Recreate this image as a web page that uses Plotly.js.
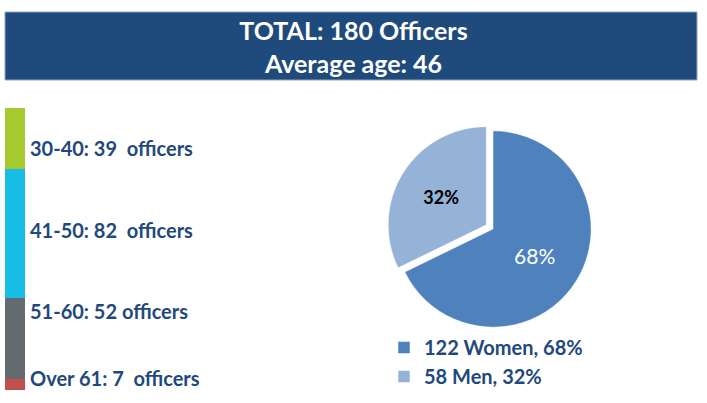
<!DOCTYPE html>
<html>
<head>
<meta charset="utf-8">
<script src="https://cdn.plot.ly/plotly-3.0.1.min.js"></script>
<style>html,body{margin:0;padding:0;background:#fff;}#chart{width:707px;height:403px;}</style>
</head>
<body>
<div id="chart"></div>
<script>
// ---- data ----
const ageGroups = ["Over 61", "51-60", "41-50", "30-40"];
const ageCounts = [7, 52, 82, 39];
const ageColors = ["#C0504D", "#646B6E", "#17BDE5", "#A6C92D"];
const genderNames = ["Women", "Men"];
const genderCounts = [122, 58];
const genderColors = ["#4F81BD", "#95B3D7"];
const averageAge = 46;

// ---- derived ----
const total = ageCounts.reduce((a, b) => a + b, 0);
const gTotal = genderCounts.reduce((a, b) => a + b, 0);
const genderPct = genderCounts.map(c => Math.round(100 * c / gTotal));
const genderLabels = genderNames.map((n, i) => genderCounts[i] + " " + n + ", " + genderPct[i] + "%");

const W = 707, H = 403;
const px = x => x / W;
const py = y => 1 - y / H;

const textColor = "#1F497D";
const FONT = "Lato, 'Open Sans', sans-serif";

const traces = [];
ageGroups.forEach((g, i) => {
  traces.push({
    type: "bar", x: ["age"], y: [ageCounts[i]], name: g,
    marker: { color: ageColors[i], line: { width: 0 } },
    width: 1, showlegend: false, hoverinfo: "skip",
    xaxis: "x", yaxis: "y"
  });
});

const pull = 0.08;
traces.push({
  type: "pie",
  labels: genderLabels,
  values: genderCounts,
  marker: { colors: genderColors, line: { color: "#ffffff", width: 0.5 } },
  sort: false, direction: "clockwise", rotation: 0,
  pull: [0, pull],
  text: genderPct.map((p, i) => i === 1 ? "<b>" + p + "%</b>" : p + "%"),
  textinfo: "text",
  texttemplate: "%{text}",
  textposition: "inside",
  insidetextorientation: "horizontal",
  insidetextfont: { family: [FONT, FONT], size: [21, 18], color: ["#ffffff", "#000000"] },
  domain: { x: [px(493 - 106), px(493 + 106)], y: [py(229 + 106), py(229 - 106)] },
  hoverinfo: "skip",
  showlegend: true
});

// labels for stacked bar
const labelY = [378, 311, 230, 148];
const annotations = ageGroups.map((g, i) => {
  const sep = (g === "Over 61" || g === "41-50" || g === "30-40") ? "\u00a0 " : " ";
  return {
    xref: "paper", yref: "paper", x: px(28), y: py(labelY[i]),
    xanchor: "left", yanchor: "middle", showarrow: false,
    text: "<b>" + g + ": " + ageCounts[i] + sep + "officers</b>",
    font: { family: FONT, size: 20, color: textColor }
  };
});

const layout = {
  width: W, height: H,
  margin: { l: 0, r: 0, t: 0, b: 0 },
  paper_bgcolor: "#ffffff", plot_bgcolor: "rgba(0,0,0,0)",
  barmode: "stack", bargap: 0,
  showlegend: true,
  font: { family: FONT },
  title: {
    text: "<b>TOTAL: " + total + " Officers</b><br><b>Average age: " + averageAge + "</b>",
    font: { family: FONT, size: 25, color: "#ffffff", lineposition: "none" },
    x: 0.5, xanchor: "center", xref: "paper",
    y: py(40), yanchor: "middle", yref: "paper"
  },
  xaxis: { domain: [px(5), px(25)], visible: false, fixedrange: true },
  yaxis: { domain: [py(390), py(108)], range: [0, total], visible: false, fixedrange: true },
  shapes: [{
    type: "rect", xref: "paper", yref: "paper",
    x0: px(5), x1: px(697), y0: py(80), y1: py(12),
    fillcolor: "#1F4A7C", line: { color: "#8FA6C2", width: 1 }, layer: "below"
  }],
  legend: {
    x: px(384), y: py(328), xanchor: "left", yanchor: "top",
    traceorder: "normal",
    font: { family: FONT, size: 20, color: textColor, weight: 700 },
    bgcolor: "rgba(0,0,0,0)", tracegroupgap: 0, itemwidth: 30
  },
  annotations: annotations
};

Plotly.newPlot("chart", traces, layout, { displayModeBar: false, staticPlot: true });
</script>
</body>
</html>
